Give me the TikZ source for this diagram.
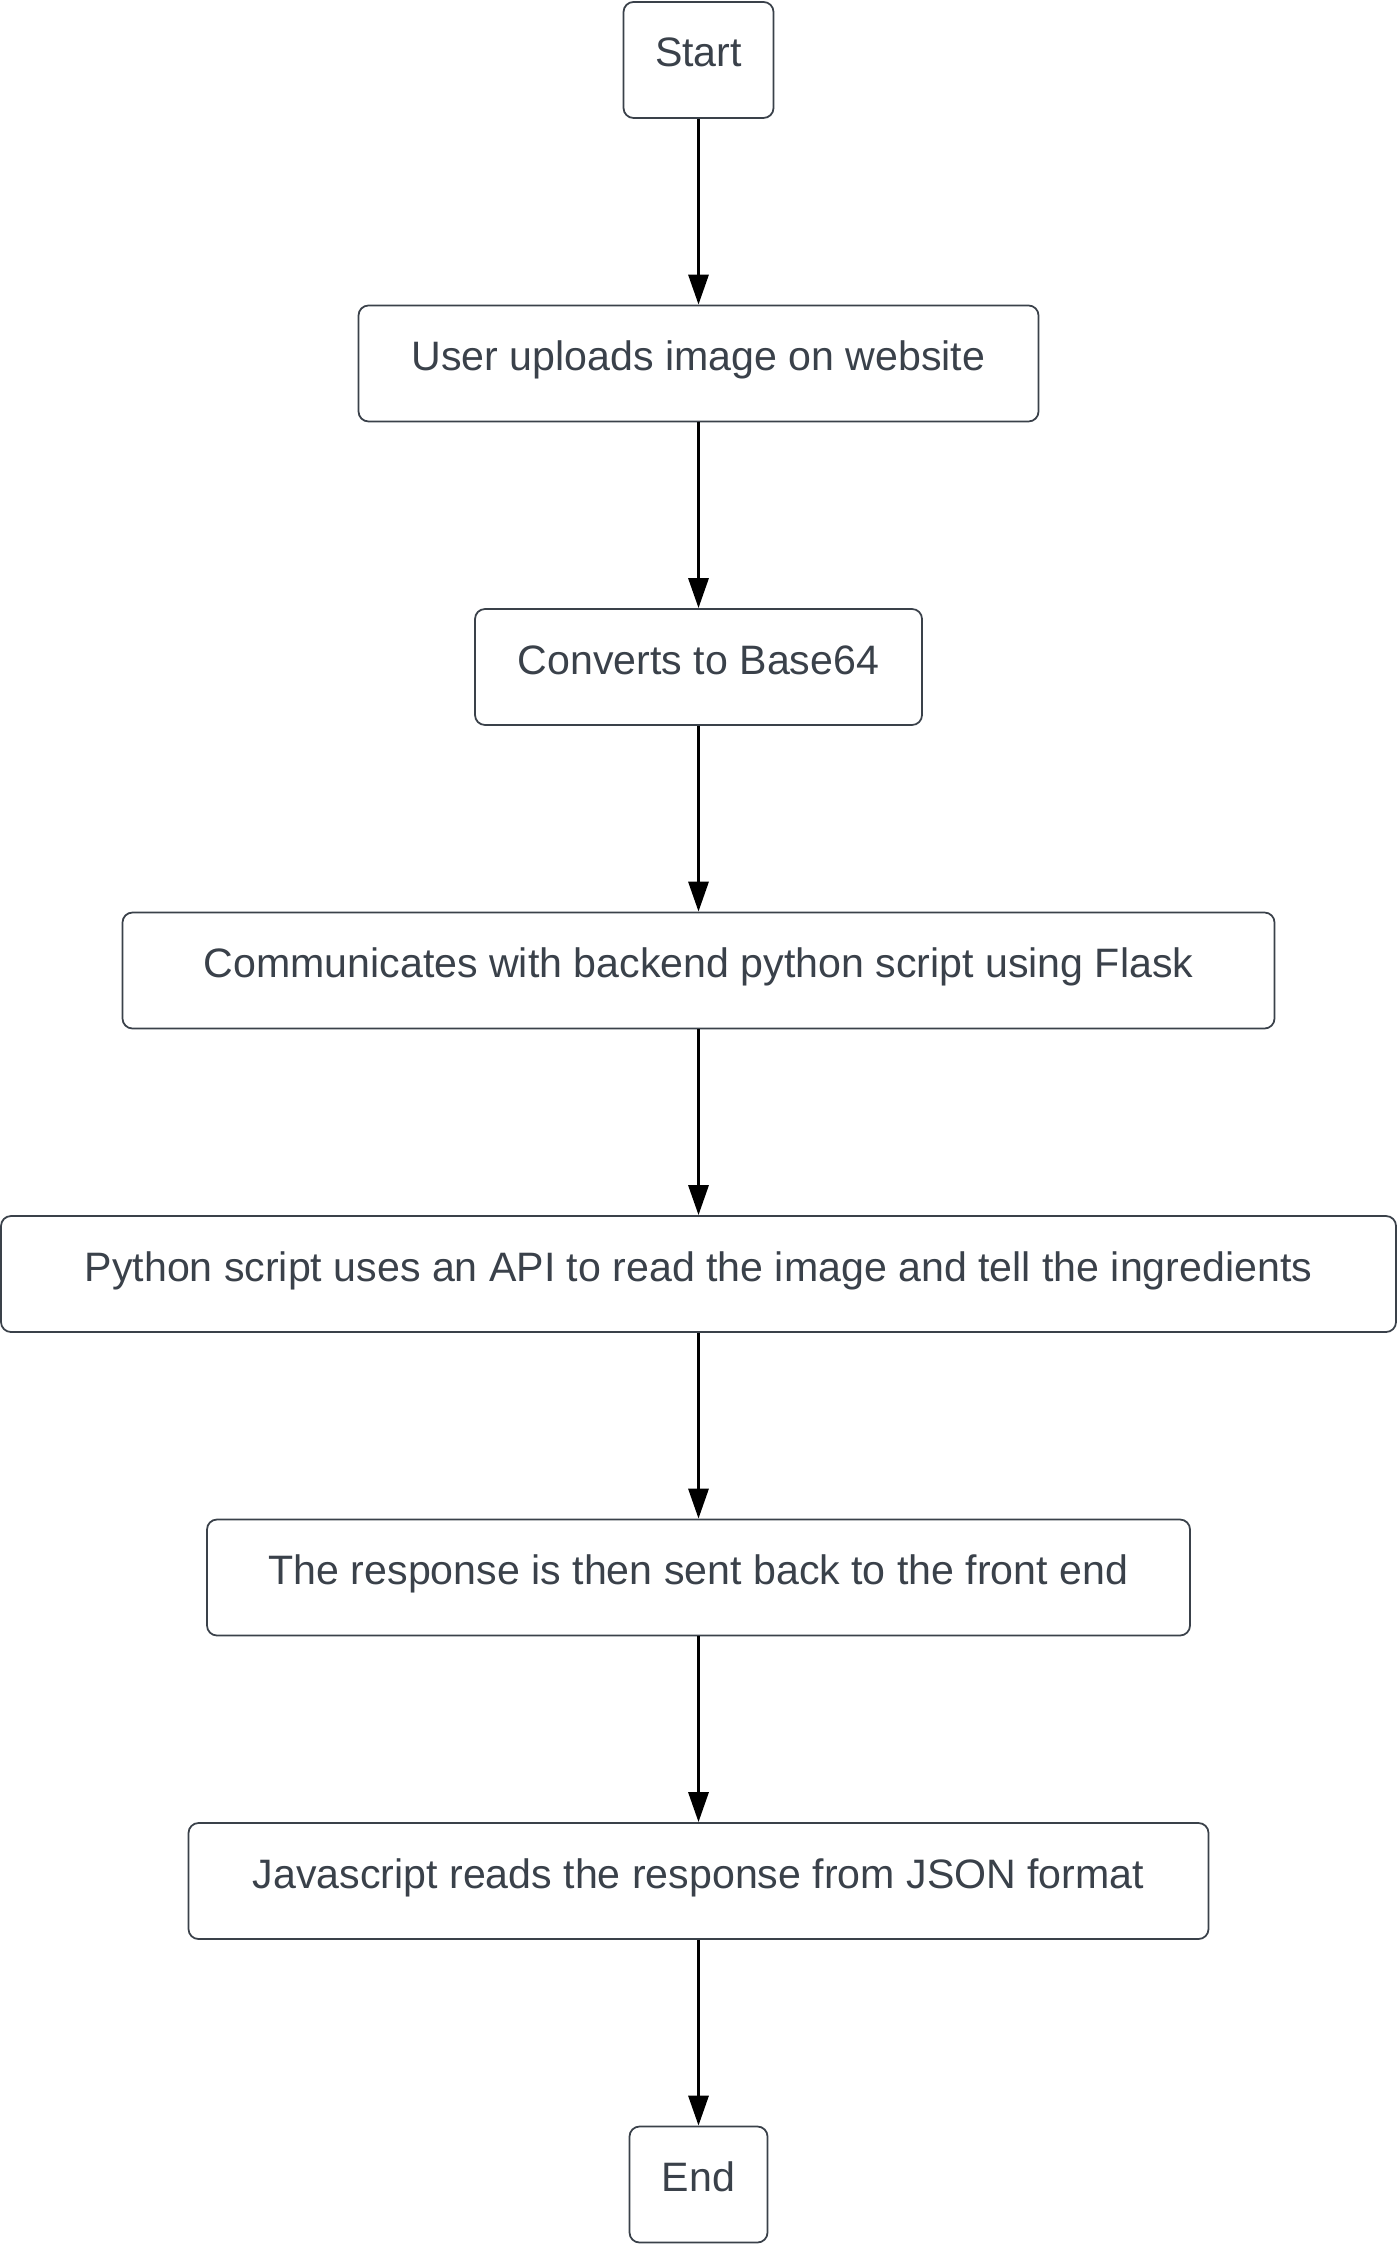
\documentclass[tikz,border=0pt]{standalone}
\usepackage{fontspec}
\setmainfont{Liberation Sans}
\usetikzlibrary{arrows.meta}
\definecolor{boxline}{HTML}{3A414A}
\tikzset{
	stepbox/.style={draw=boxline, line width=0.5pt, rounded corners=0.1cm, text=boxline,
		minimum height=1.16cm, text height=0.32cm, text depth=0.18cm, inner sep=0pt,
		font=\fontsize{11.7}{14}\selectfont},
	flow/.style={-{Triangle[length=0.3cm,width=0.2cm]}, line width=0.9pt, black}
}
\begin{document}
\begin{tikzpicture}
		\useasboundingbox (-0.01,0) rectangle (13.98,-22.44);
		% the steps, top to bottom
		\foreach \n/\k/\w/\t in {start/0/1.5/Start,
			upload/1/6.8/User uploads image on website,
			base/2/4.47/Converts to Base64,
			flask/3/11.52/Communicates with backend python script using Flask,
			api/4/13.95/Python script uses an API to read the image and tell the ingredients,
			reply/5/9.83/The response is then sent back to the front end,
			json/6/10.2/Javascript reads the response from JSON format,
			end/7/1.38/End} {
			\node [stepbox, minimum width=\w cm] (\n) at (6.975,-0.6-3.035*\k) {\t};
		}
		% connectors
		\foreach \a/\b in {start/upload, upload/base, base/flask, flask/api, api/reply, reply/json, json/end} {
			\draw [flow] (\a) -- (\b);
		}
	\end{tikzpicture}
\end{document}
